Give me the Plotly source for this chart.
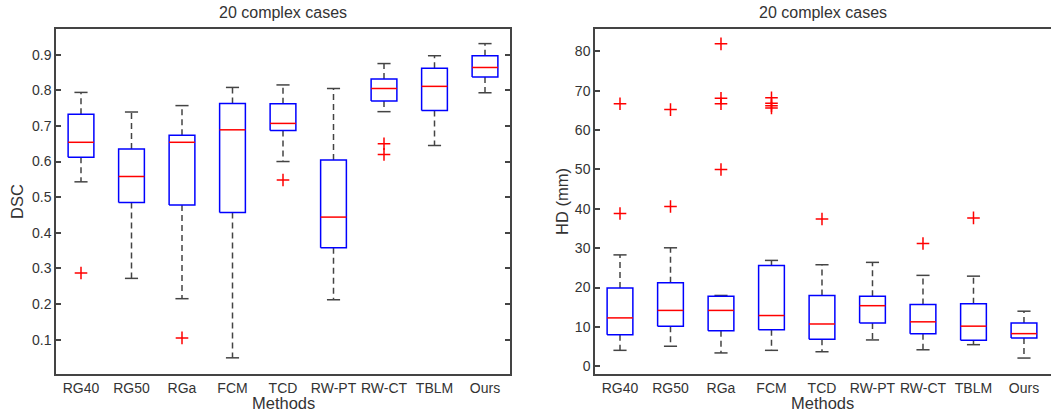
import plotly.graph_objects as go

methods = ["RG40", "RG50", "RGa", "FCM", "TCD", "RW-PT", "RW-CT", "TBLM", "Ours"]

# DSC (left panel)
dsc_lower = [0.543, 0.272, 0.215, 0.049, 0.600, 0.212, 0.740, 0.645, 0.793]
dsc_q1 = [0.612, 0.485, 0.478, 0.457, 0.687, 0.358, 0.770, 0.743, 0.837]
dsc_median = [0.654, 0.558, 0.654, 0.689, 0.707, 0.444, 0.805, 0.811, 0.864]
dsc_q3 = [0.733, 0.635, 0.674, 0.763, 0.762, 0.604, 0.832, 0.862, 0.897]
dsc_upper = [0.794, 0.739, 0.757, 0.808, 0.815, 0.805, 0.875, 0.897, 0.931]
dsc_outliers = [[0.287], [], [0.105], [], [0.548], [], [0.650, 0.620], [], []]

# HD in mm (right panel)
hd_lower = [4.06, 5.1, 3.4, 4.06, 3.7, 6.7, 4.2, 5.5, 2.1]
hd_q1 = [8.0, 10.2, 9.06, 9.3, 6.9, 11.0, 8.3, 6.6, 7.2]
hd_median = [12.3, 14.2, 14.2, 12.9, 10.75, 15.4, 11.3, 10.2, 8.3]
hd_q3 = [19.9, 21.2, 17.8, 25.6, 18.0, 17.8, 15.7, 15.9, 11.0]
hd_upper = [28.3, 30.1, 18.0, 26.9, 25.8, 26.4, 23.1, 22.9, 14.0]
hd_outliers = [[66.7, 38.8], [65.2, 40.6], [81.9, 68.1, 66.7, 50.0],
               [68.2, 66.8, 66.2, 65.6], [37.4], [], [31.2], [37.7], []]

dsc_ticks = [0.1, 0.2, 0.3, 0.4, 0.5, 0.6, 0.7, 0.8, 0.9]
hd_ticks = [0, 10, 20, 30, 40, 50, 60, 70, 80]

BOX_HW = 0.255
CAP_HW = 0.13
TXT = "#333333"
FONT = "Liberation Sans, Arial, sans-serif"


def box_traces(lower, q1, med, q3, upper, outliers, xa, ya):
    pos = list(range(1, len(lower) + 1))
    bx, by, mx, my, wx, wy, cx, cy, ox, oy = [], [], [], [], [], [], [], [], [], []
    for p, lo, a, m, b, hi, outs in zip(pos, lower, q1, med, q3, upper, outliers):
        bx += [p - BOX_HW, p + BOX_HW, p + BOX_HW, p - BOX_HW, p - BOX_HW, None]
        by += [a, a, b, b, a, None]
        mx += [p - BOX_HW, p + BOX_HW, None]
        my += [m, m, None]
        wx += [p, p, None, p, p, None]
        wy += [b, hi, None, a, lo, None]
        cx += [p - CAP_HW, p + CAP_HW, None, p - CAP_HW, p + CAP_HW, None]
        cy += [hi, hi, None, lo, lo, None]
        for o in outs:
            ox.append(p)
            oy.append(o)
    common = dict(xaxis=xa, yaxis=ya, showlegend=False, hoverinfo="skip")
    return [
        go.Scatter(x=wx, y=wy, mode="lines", line=dict(color="#444444", width=1.5, dash="6px,4px"), **common),
        go.Scatter(x=cx, y=cy, mode="lines", line=dict(color="#444444", width=1.5), **common),
        go.Scatter(x=bx, y=by, mode="lines", line=dict(color="#0000ff", width=1.5), **common),
        go.Scatter(x=mx, y=my, mode="lines", line=dict(color="#ff0000", width=1.5), **common),
        go.Scatter(x=ox, y=oy, mode="markers",
                   marker=dict(symbol="cross-thin", size=9, line=dict(color="#ff0000", width=1.5)), **common),
    ]


fig = go.Figure()
for t in box_traces(dsc_lower, dsc_q1, dsc_median, dsc_q3, dsc_upper, dsc_outliers, "x", "y"):
    fig.add_trace(t)
for t in box_traces(hd_lower, hd_q1, hd_median, hd_q3, hd_upper, hd_outliers, "x2", "y2"):
    fig.add_trace(t)

W, H = 1051, 415
ydom = [1 - 374 / H, 1 - 29 / H]
xcommon = dict(tickmode="array", tickvals=list(range(1, 10)), ticktext=methods, ticks="",
               showgrid=False, zeroline=False, showline=True, linecolor="#444444", linewidth=1.5,
               tickfont=dict(family=FONT, size=14, color=TXT))
ycommon = dict(showgrid=False, zeroline=False, showline=True, linecolor="#444444", linewidth=1.5,
               ticks="inside", ticklen=5, tickcolor="#444444", tickwidth=1.5,
               tickfont=dict(family=FONT, size=14, color=TXT))

fig.update_layout(
    width=W, height=H,
    margin=dict(l=0, r=0, t=0, b=0),
    plot_bgcolor="white", paper_bgcolor="white",
    xaxis=dict(domain=[56 / W, 510 / W], range=[0.505, 9.495], anchor="y", mirror=True, **xcommon),
    yaxis=dict(domain=ydom, range=[0.0036, 0.972], anchor="x", mirror="ticks",
               tickvals=dsc_ticks, ticktext=[f"{v:.1f}" for v in dsc_ticks], **ycommon),
    xaxis2=dict(domain=[595 / W, 1.0], range=[0.505, 9.535], anchor="y2", mirror=True, **xcommon),
    yaxis2=dict(domain=ydom, range=[-1.95, 85.67], anchor="x2", mirror=False,
                tickvals=hd_ticks, ticktext=[str(v) for v in hd_ticks], **ycommon),
    annotations=[
        dict(text="20 complex cases", x=283 / W, y=1 - 13 / H, xref="paper", yref="paper",
             showarrow=False, font=dict(family=FONT, size=16, color=TXT), xanchor="center", yanchor="middle"),
        dict(text="20 complex cases", x=823 / W, y=1 - 13 / H, xref="paper", yref="paper",
             showarrow=False, font=dict(family=FONT, size=16, color=TXT), xanchor="center", yanchor="middle"),
        dict(text="Methods", x=283 / W, y=1 - 403 / H, xref="paper", yref="paper",
             showarrow=False, font=dict(family=FONT, size=16.5, color=TXT), xanchor="center", yanchor="middle"),
        dict(text="Methods", x=822 / W, y=1 - 403 / H, xref="paper", yref="paper",
             showarrow=False, font=dict(family=FONT, size=16.5, color=TXT), xanchor="center", yanchor="middle"),
        dict(text="DSC", x=17 / W, y=1 - 202 / H, xref="paper", yref="paper", textangle=-90,
             showarrow=False, font=dict(family=FONT, size=16.5, color=TXT), xanchor="center", yanchor="middle"),
        dict(text="HD (mm)", x=562 / W, y=1 - 202 / H, xref="paper", yref="paper", textangle=-90,
             showarrow=False, font=dict(family=FONT, size=16.5, color=TXT), xanchor="center", yanchor="middle"),
    ],
)

fig.write_html("out.html", config={"displayModeBar": False})

# remove default page margin so the figure sits at the window's top-left corner
with open("out.html", "r", encoding="utf-8") as f:
    html = f.read()
html = html.replace("<head>", "<head><style>html,body{margin:0;padding:0;overflow:hidden;}</style>", 1)
with open("out.html", "w", encoding="utf-8") as f:
    f.write(html)
